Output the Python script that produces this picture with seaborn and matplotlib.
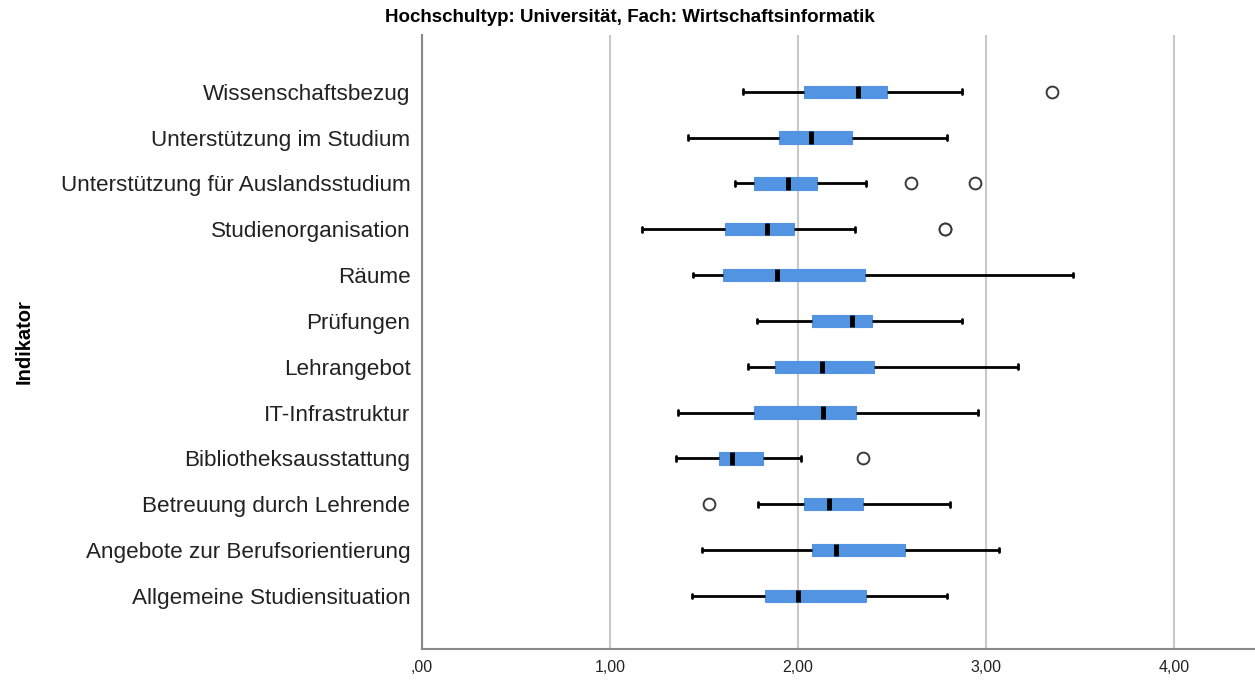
import pandas as pd
import numpy as np
import matplotlib
matplotlib.use("Agg")
import matplotlib.pyplot as plt
import seaborn as sns
from matplotlib.ticker import FuncFormatter, FixedLocator

sns.set_theme(style="white")
plt.rcParams['font.family'] = ['Liberation Sans', 'DejaVu Sans']

# Indikatoren (top to bottom) and five-number summaries
indikatoren = [
    'Wissenschaftsbezug',
    'Unterstützung im Studium',
    'Unterstützung für Auslandsstudium',
    'Studienorganisation',
    'Räume',
    'Prüfungen',
    'Lehrangebot',
    'IT-Infrastruktur',
    'Bibliotheksausstattung',
    'Betreuung durch Lehrende',
    'Angebote zur Berufsorientierung',
    'Allgemeine Studiensituation',
]
whisker_low = [1.71, 1.415, 1.665, 1.17, 1.445, 1.78, 1.735, 1.365, 1.35, 1.79, 1.49, 1.435]
q1 = [2.035, 1.90, 1.765, 1.615, 1.60, 2.075, 1.88, 1.765, 1.58, 2.03, 2.075, 1.825]
median = [2.32, 2.07, 1.945, 1.835, 1.89, 2.29, 2.13, 2.135, 1.65, 2.165, 2.205, 2.00]
q3 = [2.475, 2.29, 2.10, 1.98, 2.355, 2.395, 2.405, 2.31, 1.815, 2.345, 2.57, 2.36]
whisker_high = [2.875, 2.795, 2.36, 2.305, 3.46, 2.875, 3.17, 2.955, 2.015, 2.81, 3.07, 2.795]

# Ausreißer (outliers)
outlier_indikator = ['Wissenschaftsbezug', 'Unterstützung für Auslandsstudium',
                     'Unterstützung für Auslandsstudium', 'Studienorganisation',
                     'Studienorganisation', 'Bibliotheksausstattung',
                     'Betreuung durch Lehrende']
outlier_value = [3.35, 2.60, 2.94, 2.78, 2.78, 2.345, 1.525]

x_ticks = [0, 1, 2, 3, 4]
title = 'Hochschultyp: Universität, Fach: Wirtschaftsinformatik'

# long table: each indicator gets its five summary values so the box
# quartiles land exactly on them, whiskers span min..max
rows = []
for i, name in enumerate(indikatoren):
    for v in (whisker_low[i], q1[i], median[i], q3[i], whisker_high[i]):
        rows.append([name, v])
df = pd.DataFrame(rows, columns=['Indikator', 'Wert'])
df_out = pd.DataFrame({'Indikator': outlier_indikator, 'Wert': outlier_value})

box_color = '#5294E2'

fig = plt.figure(figsize=(12.55, 6.84), dpi=100)
ax = fig.add_axes([0.336, 0.051, 0.664, 0.898])

sns.boxplot(
    data=df, x='Wert', y='Indikator', order=indikatoren, orient='y',
    whis=(0, 100), width=0.27, color=box_color, saturation=1,
    linecolor='black', fliersize=0, ax=ax,
    boxprops=dict(edgecolor=box_color, linewidth=0.8),
    medianprops=dict(color='black', linewidth=3.5),
    whiskerprops=dict(color='black', linewidth=2.0),
    capprops=dict(color='black', linewidth=2.0),
    capwidths=0.1,
)

sns.stripplot(
    data=df_out, x='Wert', y='Indikator', order=indikatoren, orient='y',
    jitter=False, color='white', edgecolor='#3a3a3a', linewidth=1.4,
    size=8.5, ax=ax, zorder=5,
)

ax.set_xlim(0, 4.43)
ax.set_ylim(12.16, -1.24)
ax.xaxis.set_major_locator(FixedLocator(x_ticks))


def komma(x, pos):
    s = f'{x:.2f}'.replace('.', ',')
    return s[1:] if s.startswith('0,') else s


ax.xaxis.set_major_formatter(FuncFormatter(komma))
ax.grid(axis='x', color='#c9c9c9', linewidth=1.5, zorder=0)
ax.set_axisbelow(True)
ax.tick_params(axis='both', length=0)
ax.tick_params(axis='y', labelsize=16.2, labelcolor='#222222', pad=8)
ax.tick_params(axis='x', labelsize=11.5, labelcolor='#222222', pad=8)

for side in ['top', 'right']:
    ax.spines[side].set_visible(False)
for side in ['left', 'bottom']:
    ax.spines[side].set_color('#888888')
    ax.spines[side].set_linewidth(1.5)

ax.set_xlabel('')
ax.set_ylabel('Indikator', fontsize=14.5, fontweight='bold', color='black')
ax.yaxis.set_label_coords(-0.466, 0.5, transform=ax.transAxes)

fig.text(0.502, 0.974, title, ha='center', va='center', fontsize=13.5,
         fontweight='bold', color='black')

fig.savefig('out.png', dpi=100)
